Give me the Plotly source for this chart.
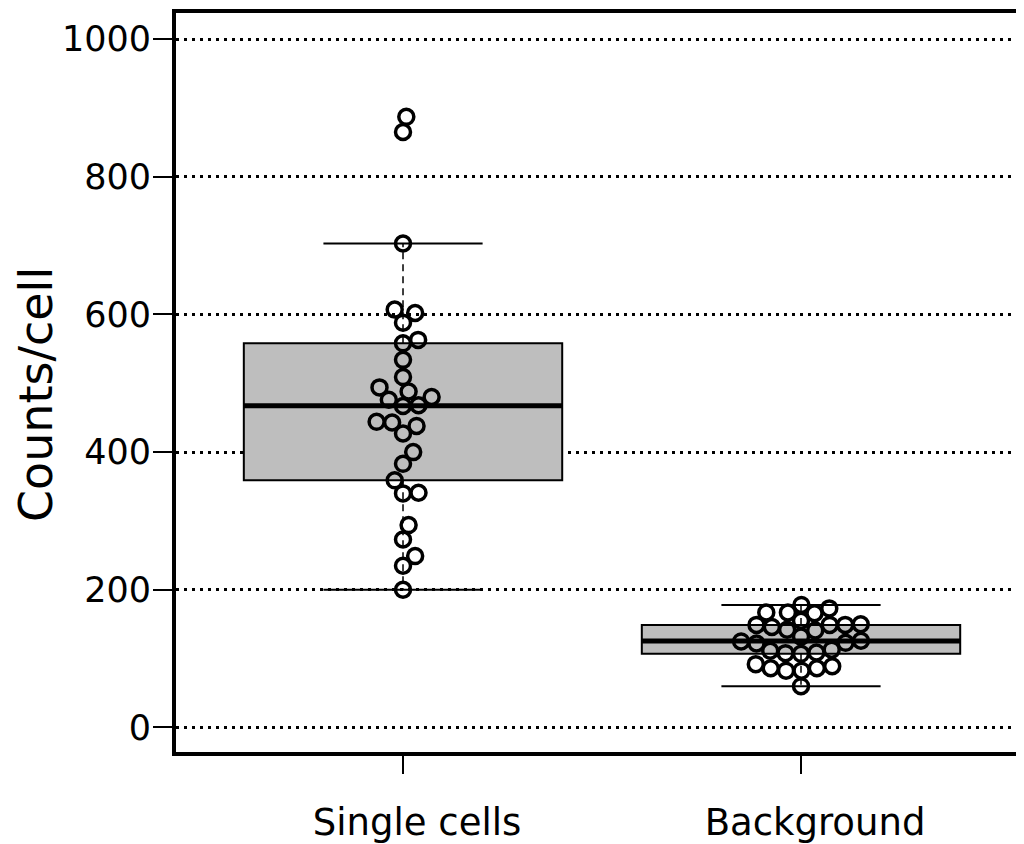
import math
import plotly.graph_objects as go

# ---------------- data ----------------
categories = ["Single cells", "Background"]
single_cells = [887, 865, 703, 607, 602, 588, 563, 558, 534, 509, 494, 488, 480,
                476, 468, 467, 444, 443, 438, 427, 400, 383, 359, 341, 340, 294,
                273, 249, 235, 200]
background = [178, 173, 167, 167, 166, 155, 149, 149, 146, 142, 141, 149, 150,
              132, 126, 123, 125, 122, 111.5, 108, 107, 109, 113, 92, 86, 82.5,
              82.5, 86, 89, 60]
y_ticks = [0, 200, 400, 600, 800, 1000]
y_title = "Counts/cell"
groups = [single_cells, background]

# ---------------- layout constants ----------------
# page body has an 8px margin, so the figure is sized to end at the window edge
W, H = 1016, 836
M_L, M_R, M_T, M_B = 168, 0, 5, 92
X_RANGE = [-0.5704, 1.5603]
Y_RANGE = [-35.6, 1037.8]
px_per_x = (W - M_L - M_R) / (X_RANGE[1] - X_RANGE[0])
px_per_y = (H - M_T - M_B) / (Y_RANGE[1] - Y_RANGE[0])
DIAM = 15.5  # swarm spacing in px


def fivenum(vals):
    s = sorted(vals)
    n = len(s)

    def med(a):
        m = len(a)
        return a[m // 2] if m % 2 else (a[m // 2 - 1] + a[m // 2]) / 2

    half = (n + 1) // 2
    lower = s[:half]
    upper = s[n - half:]
    q1, q2, q3 = med(lower), med(s), med(upper)
    iqr = q3 - q1
    lo = min(v for v in s if v >= q1 - 1.5 * iqr)
    hi = max(v for v in s if v <= q3 + 1.5 * iqr)
    return q1, q2, q3, lo, hi


def swarm(vals):
    order = sorted(range(len(vals)), key=lambda i: vals[i])
    placed = []
    offs = [0.0] * len(vals)
    for i in order:
        y = vals[i] * px_per_y
        cands = [0.0]
        for py, px in placed:
            dy = abs(y - py)
            if dy < DIAM:
                dx = math.sqrt(DIAM ** 2 - dy ** 2)
                cands += [px + dx, px - dx]
        ok = [c for c in cands
              if all((c - px) ** 2 + (y - py) ** 2 >= DIAM ** 2 - 1e-6 for py, px in placed)]
        best = min(ok, key=lambda c: (round(abs(c), 6), -c))
        placed.append((y, best))
        offs[i] = best / px_per_x
    return offs


fig = go.Figure()
BOX_W = 0.8
for gi, vals in enumerate(groups):
    q1, q2, q3, lo, hi = fivenum(vals)
    fig.add_trace(go.Box(
        x=[gi], q1=[q1], median=[q2], q3=[q3], lowerfence=[q1], upperfence=[q3],
        width=BOX_W, fillcolor="#bebebe", line=dict(color="black", width=2),
        whiskerwidth=0, boxpoints=False, hoverinfo="skip", showlegend=False))
    # median
    fig.add_trace(go.Scatter(x=[gi - BOX_W / 2, gi + BOX_W / 2], y=[q2, q2], mode="lines",
                             line=dict(color="black", width=5), showlegend=False, hoverinfo="skip"))
    # whiskers (dashed)
    for a, b in [(q3, hi), (q1, lo)]:
        fig.add_trace(go.Scatter(x=[gi, gi], y=[a, b], mode="lines",
                                 line=dict(color="black", width=1.5, dash="7px,5px"),
                                 showlegend=False, hoverinfo="skip"))
    # caps
    for c in [hi, lo]:
        fig.add_trace(go.Scatter(x=[gi - BOX_W / 4, gi + BOX_W / 4], y=[c, c], mode="lines",
                                 line=dict(color="black", width=2),
                                 showlegend=False, hoverinfo="skip"))

for gi, vals in enumerate(groups):
    offs = swarm(vals)
    fig.add_trace(go.Scatter(
        x=[gi + o for o in offs], y=vals, mode="markers",
        marker=dict(symbol="circle", size=15, color="rgba(0,0,0,0)",
                    line=dict(color="black", width=3.5)),
        showlegend=False, hoverinfo="skip"))

fig.update_layout(
    width=W, height=H,
    margin=dict(l=M_L, r=M_R, t=M_T, b=M_B),
    paper_bgcolor="white", plot_bgcolor="white",
    font=dict(family="DejaVu Sans", color="black"),
    xaxis=dict(range=X_RANGE, tickvals=[0, 1], ticktext=categories, automargin=False,
               showline=True, linecolor="black", linewidth=4, mirror=True,
               ticks="outside", ticklen=18, tickwidth=2, tickcolor="black",
               showgrid=False, zeroline=False, tickfont=dict(size=37),
               ticklabelstandoff=17, ticklabelshift=14),
    yaxis=dict(range=Y_RANGE, tickvals=y_ticks, automargin=False,
               showline=True, linecolor="black", linewidth=4, mirror=False,
               ticks="outside", ticklen=19, tickwidth=2, tickcolor="black",
               showgrid=True, gridcolor="black", gridwidth=3, griddash="3px,5px",
               zeroline=False, tickfont=dict(size=35), ticklabelstandoff=-5),
    annotations=[dict(text=y_title, textangle=-90, font=dict(size=46),
                      xref="paper", yref="paper", x=0, y=0.483,
                      xshift=-140, xanchor="center", yanchor="middle",
                      showarrow=False)],
)

fig.write_html("out.html")
